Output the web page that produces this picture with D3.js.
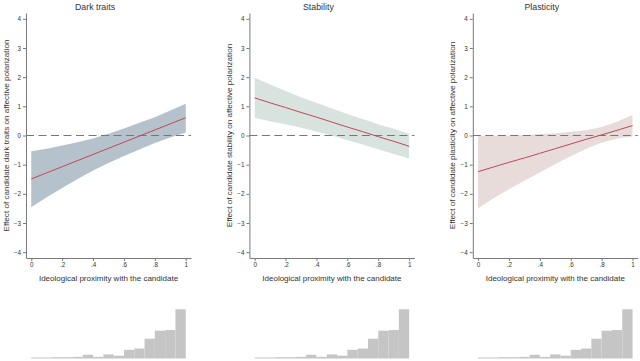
<!DOCTYPE html>
<html>
<head>
<meta charset="utf-8">
<script src="https://cdn.jsdelivr.net/npm/d3@7"></script>
<style>
  body { margin: 0; background: #fff; }
  text { font-family: "Liberation Sans", Arial, sans-serif; }
</style>
</head>
<body>
<div id="chart"></div>
<script>
// Panel titles and y-axis labels
const titles = ['Dark traits', 'Stability', 'Plasticity'];
const yTitles = [
  'Effect of candidate dark traits on affective polarization',
  'Effect of candidate stability on affective polarization',
  'Effect of candidate plasticity on affective polarization'
];
const bandColors = ['#b5c1cb', '#d8e2df', '#e8dcdb'];

// x positions where the marginal effect was evaluated
const proximity = [0, 0.1, 0.2, 0.3, 0.4, 0.5, 0.6, 0.7, 0.8, 0.9, 1];

// Dark traits
const darkEffect = [-1.49, -1.28, -1.07, -0.86, -0.65, -0.44, -0.23, -0.02, 0.19, 0.40, 0.61];
const darkUpper = [-0.54, -0.45, -0.34, -0.23, -0.10, 0.06, 0.24, 0.44, 0.63, 0.86, 1.09];
const darkLower = [-2.46, -2.12, -1.80, -1.49, -1.20, -0.94, -0.70, -0.48, -0.26, -0.07, 0.10];

// Stability
const stabEffect = [1.29, 1.12, 0.96, 0.79, 0.63, 0.46, 0.29, 0.13, -0.04, -0.20, -0.37];
const stabUpper = [1.98, 1.75, 1.53, 1.31, 1.12, 0.93, 0.74, 0.57, 0.39, 0.23, 0.06];
const stabLower = [0.61, 0.49, 0.39, 0.27, 0.14, 0.00, -0.16, -0.31, -0.47, -0.63, -0.79];

// Plasticity
const plasEffect = [-1.24, -1.08, -0.92, -0.77, -0.61, -0.45, -0.29, -0.13, 0.02, 0.18, 0.34];
const plasUpper = [-0.02, -0.01, 0.00, 0.02, 0.05, 0.08, 0.13, 0.18, 0.29, 0.47, 0.71];
const plasLower = [-2.50, -2.15, -1.84, -1.55, -1.27, -0.98, -0.71, -0.45, -0.25, -0.10, -0.03];

// Histogram of ideological proximity (percent per bin, 15 bins over 0..1)
const histPercent = [0.6, 0.6, 0.8, 0.8, 1.0, 2.3, 1.0, 2.5, 1.7, 5.3, 6.1, 12.1, 17.0, 17.4, 30.1];

const xTicks = [0, 0.2, 0.4, 0.6, 0.8, 1];
const xTickLabels = ['0', '.2', '.4', '.6', '.8', '1'];
const yTicks = [-4, -3, -2, -1, 0, 1, 2, 3, 4];

const panels = [
  { effect: darkEffect, upper: darkUpper, lower: darkLower },
  { effect: stabEffect, upper: stabUpper, lower: stabLower },
  { effect: plasEffect, upper: plasUpper, lower: plasLower }
];

const svg = d3.select('#chart')
  .append('svg')
  .attr('width', 640)
  .attr('height', 361);

const panelStep = 223.4;
const axisColor = '#7a7a7a';
const textColor = '#333';

panels.forEach((p, i) => {
  const g = svg.append('g')
    .attr('transform', `translate(${i * panelStep},0)`);

  const x = d3.scaleLinear().domain([-0.034, 1.034]).range([26, 191]);
  const y = d3.scaleLinear().domain([-4.2, 4.2]).range([258, 13]);

  // Title
  g.append('text')
    .attr('x', 95)
    .attr('y', 10)
    .attr('text-anchor', 'middle')
    .style('font-size', '8.8px')
    .style('fill', textColor)
    .text(titles[i]);

  // Confidence band
  const rows = proximity.map((d, k) => ({ x: d, lo: p.lower[k], hi: p.upper[k], m: p.effect[k] }));
  g.append('path')
    .datum(rows)
    .attr('d', d3.area().x(d => x(d.x)).y0(d => y(d.lo)).y1(d => y(d.hi)))
    .style('fill', bandColors[i]);

  // Zero reference line
  g.append('line')
    .attr('x1', x.range()[0])
    .attr('x2', x.range()[1])
    .attr('y1', y(0))
    .attr('y2', y(0))
    .style('stroke', '#777')
    .style('stroke-width', 1)
    .style('stroke-dasharray', '8,4.5');

  // Effect line
  g.append('path')
    .datum(rows)
    .attr('d', d3.line().x(d => x(d.x)).y(d => y(d.m)))
    .style('fill', 'none')
    .style('stroke', '#c0485a')
    .style('stroke-width', 1);

  // Y axis
  const yAxis = g.append('g')
    .attr('transform', `translate(${x.range()[0]},0)`)
    .call(d3.axisLeft(y).tickValues(yTicks).tickSize(3).tickSizeOuter(0).tickPadding(2));
  yAxis.selectAll('path, line').style('stroke', axisColor);
  yAxis.selectAll('text')
    .style('font-size', '6.3px')
    .style('fill', textColor)
    .style('font-family', '"Liberation Sans", Arial, sans-serif');

  // X axis
  const xAxis = g.append('g')
    .attr('transform', `translate(0,${y.range()[0]})`)
    .call(d3.axisBottom(x).tickValues(xTicks)
      .tickFormat((d, k) => xTickLabels[k]).tickSize(3).tickSizeOuter(0).tickPadding(2));
  xAxis.selectAll('path, line').style('stroke', axisColor);
  xAxis.selectAll('text')
    .style('font-size', '6.3px')
    .style('fill', textColor)
    .style('font-family', '"Liberation Sans", Arial, sans-serif');

  // Axis titles
  g.append('text')
    .attr('x', 108.5)
    .attr('y', 281)
    .attr('text-anchor', 'middle')
    .style('font-size', '8px')
    .style('fill', textColor)
    .text('Ideological proximity with the candidate');

  g.append('text')
    .attr('transform', `translate(8.5,${y(0)}) rotate(-90)`)
    .attr('text-anchor', 'middle')
    .style('font-size', '8.1px')
    .style('fill', textColor)
    .text(yTitles[i]);

  // Histogram
  const hy = d3.scaleLinear().domain([0, 30.1]).range([358.5, 309.3]);
  const binW = 1 / histPercent.length;
  g.selectAll('.bar')
    .data(histPercent)
    .enter()
    .append('rect')
    .attr('x', (d, k) => x(k * binW))
    .attr('width', x(binW) - x(0))
    .attr('y', d => hy(d))
    .attr('height', d => hy(0) - hy(d))
    .style('fill', '#c5c5c5');
});
</script>
</body>
</html>
